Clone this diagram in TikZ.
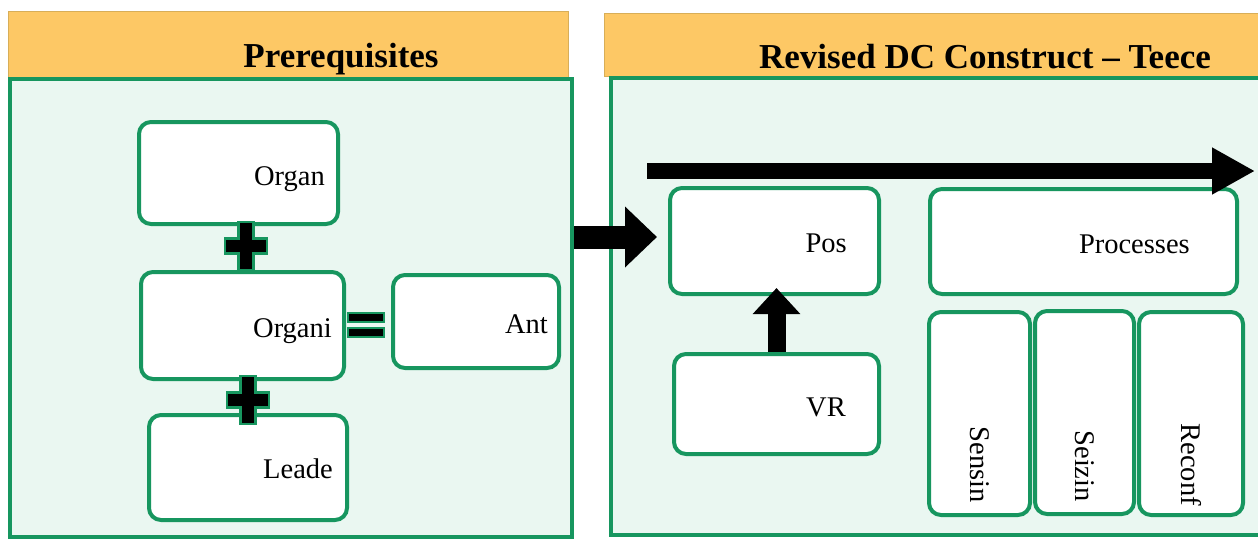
\documentclass[tikz,border=0pt]{standalone}
\usepackage{fontspec}
\setmainfont{Liberation Serif}
\usetikzlibrary{arrows.meta}
\definecolor{hdr}{HTML}{FDC865}
\definecolor{hdredge}{HTML}{D8AE58}
\definecolor{mint}{HTML}{EAF7F1}
\definecolor{leaf}{HTML}{17965F}
\begin{document}
\begin{tikzpicture}[x=1pt,y=-1pt,
  panel/.style={draw=leaf, line width=4pt, fill=mint, inner sep=0, anchor=north west},
  header/.style={fill=hdr, draw=hdredge, line width=0.8pt, inner sep=0, anchor=north west},
  box/.style={draw=leaf, line width=4pt, fill=white, rounded corners=12pt, inner sep=0, anchor=north west},
  lbl/.style={font=\fontsize{28.5}{30}\selectfont, inner sep=0, anchor=base east},
  vlbl/.style={font=\fontsize{28.5}{30}\selectfont, inner sep=0, anchor=east, rotate=-90},
  title/.style={font=\fontsize{35}{38}\selectfont\bfseries, inner sep=0, anchor=base},
  sign/.style={fill=black, draw=leaf, line width=2.5pt, line join=miter},
  blockarrow/.style={draw=black, line width=#1},
  plussign/.pic={
    \path[sign] (-7.5,-24) -- (7.5,-24) -- (7.5,-7.5) -- (21,-7.5) -- (21,7.5)
      -- (7.5,7.5) -- (7.5,24) -- (-7.5,24) -- (-7.5,7.5) -- (-21,7.5)
      -- (-21,-7.5) -- (-7.5,-7.5) -- cycle;
  },
]
\useasboundingbox (0,0) rectangle (1258,538);

% headers and panels
\node[header, minimum width=560pt, minimum height=66pt] (lh) at (8,11) {};
\node[header, minimum width=658pt, minimum height=63pt] (rh) at (604,13) {};
\node[panel, minimum width=562pt, minimum height=458pt] (lp) at (8,77) {};
\node[panel, minimum width=653pt, minimum height=457pt] (rp) at (609,76) {};
\node[title] (lt) at (341,67) {Prerequisites};
\node[title] (rt) at (985,68) {Revised DC Construct -- Teece};

% prerequisite boxes
\node[box, minimum width=199pt, minimum height=102pt] (organ) at (137,120) {};
\node[box, minimum width=203pt, minimum height=107pt] (organi) at (139,270) {};
\node[box, minimum width=166pt, minimum height=93pt] (ant) at (391,273) {};
\node[box, minimum width=198pt, minimum height=105pt] (leade) at (147,413) {};
\node[lbl] (organ-t) at (325,185) {Organ};
\node[lbl] (organi-t) at (332,337) {Organi};
\node[lbl] (ant-t) at (548,333) {Ant};
\node[lbl] (leade-t) at (333,478) {Leade};

% operators
\pic at (246,246) {plussign};
\pic at (248,400) {plussign};
\path[sign, line width=2pt] (348,312.5) rectangle (384,321.5);
\path[sign, line width=2pt] (348,327.5) rectangle (384,336.5);

% construct boxes
\node[box, minimum width=209pt, minimum height=106pt] (pos) at (668,186) {};
\node[box, minimum width=205pt, minimum height=100pt] (vr) at (672,352) {};
\node[box, minimum width=307pt, minimum height=105pt] (proc) at (928,187) {};
\node[box, minimum width=101pt, minimum height=203pt] (sensin) at (927,310) {};
\node[box, minimum width=99pt, minimum height=203pt] (seizin) at (1033,309) {};
\node[box, minimum width=104pt, minimum height=203pt] (reconf) at (1137,310) {};
\node[lbl] (pos-t) at (847,252) {Pos};
\node[lbl] (vr-t) at (846,416) {VR};
\node[lbl] (proc-t) at (1190,253) {Processes};
\node[vlbl] (sensin-t) at (sensin.center |- 0,503) {Sensin};
\node[vlbl] (seizin-t) at (seizin.center |- 0,502) {Seizin};
\node[vlbl] (reconf-t) at (reconf.center |- 0,506) {Reconf};

% block arrows
\draw[blockarrow=23pt, -{Triangle[length=32pt,width=59pt]}]
  (lp.east |- 0,237) -- ([xshift=-11pt]pos.west |- 0,237);
\coordinate (flowA) at (647,171);
\coordinate (flowB) at (1255,171);
\draw[blockarrow=16pt, -{Triangle[length=43pt,width=44pt]}] (flowA) -- (flowB);
\draw[blockarrow=18pt, -{Triangle[length=26pt,width=46pt]}]
  (vr.north) -- ([yshift=8pt]vr.north |- pos.south);
\end{tikzpicture}
\end{document}
